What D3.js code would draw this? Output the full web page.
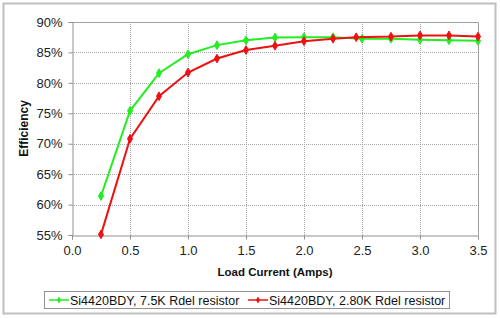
<!DOCTYPE html>
<html>
<head>
<meta charset="utf-8">
<script src="https://cdn.jsdelivr.net/npm/d3@7"></script>
<style>
  body { margin: 0; background: #fff; }
  svg { display: block; font-family: Arial, "Liberation Sans", sans-serif; }
</style>
</head>
<body>
<div id="chart"></div>
<script>
// Efficiency vs load current, two Rdel resistor values

const greenX = [0.25, 0.5, 0.75, 1.0, 1.25, 1.5, 1.75, 2.0, 2.25, 2.5, 2.75, 3.0, 3.25, 3.5];
const greenY = [61.4, 75.4, 81.6, 84.7, 86.2, 87.0, 87.45, 87.5, 87.5, 87.25, 87.25, 87.1, 87.0, 86.9];
const redX   = [0.25, 0.5, 0.75, 1.0, 1.25, 1.5, 1.75, 2.0, 2.25, 2.45, 2.75, 3.0, 3.25, 3.5];
const redY   = [55.1, 70.8, 77.8, 81.7, 84.0, 85.4, 86.1, 86.85, 87.25, 87.5, 87.6, 87.8, 87.8, 87.6];
const seriesNames = ['Si4420BDY, 7.5K Rdel resistor', 'Si4420BDY, 2.80K Rdel resistor'];
const seriesColors = ['#22ee22', '#ee1111'];
const xTicks = [0, 0.5, 1.0, 1.5, 2.0, 2.5, 3.0, 3.5];
const yTicks = [55, 60, 65, 70, 75, 80, 85, 90];

const width = 500, height = 318;
const margin = { top: 22, right: 22, bottom: 83, left: 72 };   // plot area 72..478 x 22..235

const svg = d3.select('#chart').append('svg')
              .attr('width', width)
              .attr('height', height);

// outer chart frame
svg.append('rect')
   .attr('x', 3.5).attr('y', 3.5)
   .attr('width', 492).attr('height', 310)
   .attr('fill', '#fff')
   .attr('stroke', '#c0c0c0')
   .attr('stroke-width', 2);

const x = d3.scaleLinear().domain([0, 3.5]).range([margin.left, width - margin.right]);
const y = d3.scaleLinear().domain([55, 90]).range([height - margin.bottom, margin.top]);

// grid (dotted)
svg.append('g').selectAll('line')
   .data(yTicks.slice(1, -1))
   .enter().append('line')
   .attr('x1', x(0)).attr('x2', x(3.5))
   .attr('y1', d => Math.round(y(d)) + 0.5).attr('y2', d => Math.round(y(d)) + 0.5)
   .attr('stroke', '#a8a8a8')
   .attr('stroke-dasharray', '1,1');

svg.append('g').selectAll('line')
   .data(xTicks.slice(1, -1))
   .enter().append('line')
   .attr('x1', d => Math.round(x(d)) + 0.5).attr('x2', d => Math.round(x(d)) + 0.5)
   .attr('y1', y(55)).attr('y2', y(90))
   .attr('stroke', '#a8a8a8')
   .attr('stroke-dasharray', '1,1');

// plot area border (top / right)
svg.append('path')
   .attr('d', `M${x(0)},${Math.round(y(90)) + 0.5}H${Math.round(x(3.5)) + 0.5}V${y(55)}`)
   .attr('fill', 'none')
   .attr('stroke', '#a0a0a0');

// --- Axes ---
const xAxis = svg.append('g')
   .attr('transform', 'translate(0,' + (Math.round(y(55)) + 0.5) + ')')
   .call(d3.axisBottom(x).tickValues(xTicks).tickFormat(d3.format('.1f')).tickSize(4).tickPadding(6));

const yAxis = svg.append('g')
   .attr('transform', 'translate(' + (Math.round(x(0)) + 0.5) + ',0)')
   .call(d3.axisLeft(y).tickValues(yTicks).tickFormat(d => d + '%').tickSize(4).tickPadding(6));

[xAxis, yAxis].forEach(a => {
  a.select('.domain').attr('stroke', '#909090');
  a.selectAll('.tick line').attr('stroke', '#909090');
  a.selectAll('.tick text')
   .attr('fill', '#222')
   .style('font-size', '13px')
   .style('font-family', 'Arial, "Liberation Sans", sans-serif');
});

// axis titles
svg.append('text')
   .attr('x', x(1.75)).attr('y', 276)
   .attr('text-anchor', 'middle')
   .style('font-size', '11.5px')
   .style('font-weight', 'bold')
   .attr('fill', '#111')
   .text('Load Current (Amps)');

svg.append('text')
   .attr('transform', 'translate(28,' + y(72.5) + ') rotate(-90)')
   .attr('text-anchor', 'middle')
   .style('font-size', '12px')
   .style('font-weight', 'bold')
   .attr('fill', '#111')
   .text('Efficiency');

// --- Series ---
const series = [
  greenX.map((v, i) => ({ x: v, y: greenY[i] })),
  redX.map((v, i) => ({ x: v, y: redY[i] }))
];

const line = d3.line().x(d => x(d.x)).y(d => y(d.y));
const marker = d3.symbol().type(d3.symbolDiamond).size(22);

series.forEach((pts, k) => {
  svg.append('path')
     .datum(pts)
     .attr('d', line)
     .attr('fill', 'none')
     .attr('stroke', seriesColors[k])
     .attr('stroke-width', 2);

  svg.append('g').selectAll('path')
     .data(pts)
     .enter().append('path')
     .attr('transform', d => 'translate(' + x(d.x) + ',' + y(d.y) + ')')
     .attr('d', marker)
     .attr('fill', seriesColors[k])
     .attr('stroke', seriesColors[k])
     .attr('stroke-width', 1);
});

// --- Legend ---
const legend = svg.append('g');
legend.append('rect')
   .attr('x', 44.5).attr('y', 291.5)
   .attr('width', 405).attr('height', 17)
   .attr('fill', '#fff')
   .attr('stroke', '#909090');

const legendX = [49, 248];
seriesNames.forEach((name, k) => {
  const g = legend.append('g').attr('transform', 'translate(' + legendX[k] + ',300)');
  g.append('line')
   .attr('x1', 0).attr('x2', 20)
   .attr('stroke', seriesColors[k])
   .attr('stroke-width', 1.5);
  g.append('path')
   .attr('transform', 'translate(10,0)')
   .attr('d', d3.symbol().type(d3.symbolDiamond).size(14))
   .attr('fill', seriesColors[k]);
  g.append('text')
   .attr('x', 21).attr('y', 4.5)
   .style('font-size', '12.5px')
   .attr('fill', '#111')
   .text(name);
});
</script>
</body>
</html>
